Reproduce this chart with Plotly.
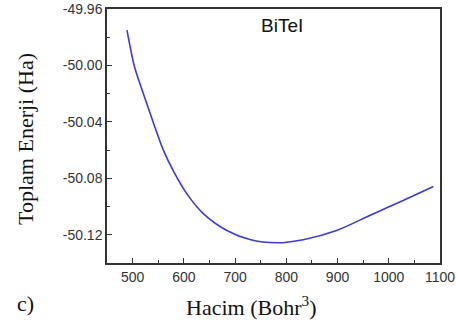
import plotly.graph_objects as go

volume = [489, 503, 519, 540, 560, 580, 606, 638, 684, 729, 781, 833, 898, 963, 1028, 1087]
energy = [-49.975, -50.000, -50.018, -50.040, -50.060, -50.075, -50.091, -50.105, -50.117,
          -50.1234, -50.1257, -50.1235, -50.117, -50.1063, -50.0957, -50.0858]
x_ticks = [500, 600, 700, 800, 900, 1000, 1100]
y_ticks = [-49.96, -50.00, -50.04, -50.08, -50.12]

fig = go.Figure()
fig.add_trace(go.Scatter(x=volume, y=energy, mode="lines",
                         line=dict(color="#3a3ad8", width=1.6, shape="spline", smoothing=0.8),
                         showlegend=False, hoverinfo="skip"))

axis_common = dict(showline=True, linecolor="#333333", linewidth=1.5, mirror=True,
                   ticks="inside", ticklen=5, tickwidth=1.2, tickcolor="#333333",
                   showgrid=False, zeroline=False, automargin=False,
                   tickfont=dict(family="Liberation Sans, Arial, sans-serif", size=14, color="#333333"))

fig.update_xaxes(range=[450, 1100], tickvals=x_ticks, ticktext=[str(v) for v in x_ticks],
                 minor=dict(ticks="inside", ticklen=3, tickcolor="#333333", dtick=50, tick0=450),
                 **axis_common)
fig.update_yaxes(range=[-50.14, -49.96], tickvals=y_ticks, ticktext=[f"{v:.2f}" for v in y_ticks],
                 minor=dict(ticks="inside", ticklen=3, tickcolor="#333333", dtick=0.02, tick0=-49.96),
                 **axis_common)

serif = "Liberation Serif, Times New Roman, serif"
fig.add_annotation(text="BiTeI", xref="paper", yref="paper", x=0.525, y=0.937,
                   xanchor="center", yanchor="middle", showarrow=False,
                   font=dict(family="Liberation Sans, Arial, sans-serif", size=19, color="#111111"))
fig.add_annotation(text="Hacim (Bohr<sup>3</sup>)", xref="paper", yref="paper", x=0.435, y=-0.17,
                   yanchor="middle", xanchor="center", showarrow=False,
                   font=dict(family=serif, size=22, color="#111111"))
fig.add_annotation(text="Toplam Enerji (Ha)", xref="paper", yref="paper", x=-0.245, y=0.49,
                   textangle=-90, xanchor="center", yanchor="middle", showarrow=False,
                   font=dict(family=serif, size=22, color="#111111"))
fig.add_annotation(text="c)", xref="paper", yref="paper", x=-0.245, y=-0.16,
                   xanchor="center", yanchor="middle", showarrow=False,
                   font=dict(family=serif, size=22, color="#111111"))

fig.update_layout(width=457, height=327, margin=dict(l=107, r=17, t=9, b=64, autoexpand=False),
                  paper_bgcolor="white", plot_bgcolor="white")
fig.write_html("out.html", config={"displayModeBar": False},
               post_script="document.body.style.margin='0';document.body.style.padding='0';")
